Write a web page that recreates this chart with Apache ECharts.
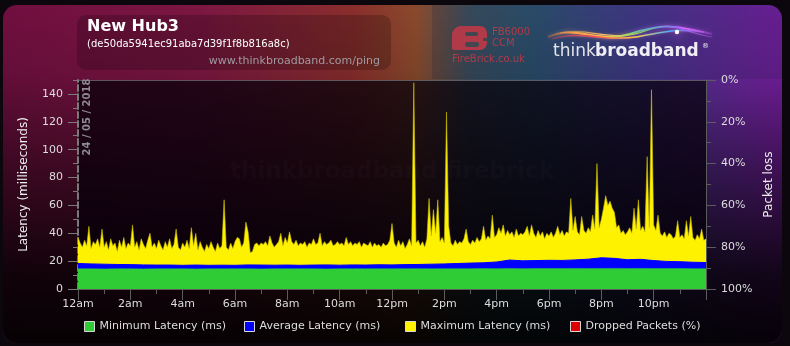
<!DOCTYPE html>
<html><head><meta charset="utf-8">
<script src="https://cdn.jsdelivr.net/npm/echarts@6/dist/echarts.min.js"></script>
<style>html,body{margin:0;padding:0;background:#0b070c;}#c{width:790px;height:346px;}</style>
</head><body><div id="c"></div>
<script>
// ---- data ----
const hourLabels = ['12am','2am','4am','6am','8am','10am','12pm','2pm','4pm','6pm','8pm','10pm'];
const seriesNames = ['Minimum Latency (ms)','Average Latency (ms)','Maximum Latency (ms)','Dropped Packets (%)'];
// maximum latency, one value per 5 minutes (00:00 .. 24:00)
const maxLatency = [
 37,33,30,35,31,45,29,34,32,36,30,43,
 30,34,28,36,31,33,27,35,30,37,29,33,
 31,46,30,34,28,36,32,29,35,40,30,33,
 29,35,31,28,34,30,36,29,32,43,30,28,
 33,30,35,29,44,31,40,28,34,30,27,32,
 29,34,30,27,33,29,31,64,30,28,33,29,
 34,37,36,30,33,48,41,26,27,32,33,31,
 33,32,34,31,38,33,30,32,34,40,31,37,
 33,41,34,32,35,31,33,32,34,30,33,32,
 36,32,33,40,31,34,32,33,35,31,32,34,
 32,33,31,37,32,34,31,33,32,34,30,33,
 32,31,34,30,33,31,32,30,33,31,32,35,
 47,33,30,35,31,34,29,32,36,31,148,33,
 35,31,34,30,36,65,38,57,40,64,34,37,
 33,127,45,33,31,35,32,34,33,36,43,34,
 32,35,33,37,34,36,45,35,38,36,53,37,
 39,44,40,46,38,42,39,41,37,43,38,40,
 39,41,45,38,46,40,37,42,38,41,36,40,
 38,41,37,40,45,39,42,38,41,40,65,42,
 52,41,39,52,42,40,44,41,53,43,90,44,
 50,58,67,60,63,58,55,44,46,40,42,39,
 41,44,40,58,43,64,42,45,41,95,44,143,
 46,42,53,40,38,41,37,40,39,36,38,49,
 37,39,36,49,38,52,37,35,39,36,43,35,
 36
];
// average latency, one value per 30 minutes
const avgLatency = [
 18.3,18.0,17.8,17.6,17.5,17.3,17.2,17.2,17.0,17.2,17.0,17.1,
 17.0,17.3,17.2,17.1,17.2,17.0,17.2,17.3,17.1,17.3,17.2,17.4,
 17.3,17.5,17.6,17.8,18.0,18.3,18.6,18.8,19.4,20.8,20.2,20.4,
 20.6,20.5,20.9,21.4,22.4,22.0,21.0,21.3,20.4,19.8,19.6,19.2,
 19.0
];
// minimum latency, one value per 30 minutes
const minLatency = [
 14.5,14.5,14.4,14.5,14.5,14.4,14.5,14.5,14.5,14.4,14.5,14.5,
 14.5,14.5,14.4,14.5,14.5,14.5,14.5,14.4,14.5,14.5,14.5,14.5,
 14.5,14.6,14.6,14.5,14.6,14.6,14.6,14.7,14.6,14.7,14.6,14.7,
 14.7,14.7,14.8,14.7,14.8,14.8,14.7,14.8,14.7,14.7,14.7,14.6,
 14.6
];
// dropped packets (%), hourly
const droppedPackets = [0,0,0,0,0,0,0,0,0,0,0,0,0,0,0,0,0,0,0,0,0,0,0,0,0];

const FONT = "'DejaVu Sans', sans-serif";
const chart = echarts.init(document.getElementById('c'), null, {renderer:'canvas'});
const G = echarts.graphic;
const LG = (stops) => new G.LinearGradient(0,0,1,0,stops.map((c,i)=>({offset:i/(stops.length-1), color:c})));

const legendBase = {
  orient:'horizontal', top:321, padding:0, itemWidth:10, itemHeight:10, itemGap:0, icon:'rect',
  itemStyle:{borderColor:'#d8d8d8', borderWidth:1},
  textStyle:{color:'#dddddd', fontSize:11, fontFamily:FONT}
};

chart.setOption({
  animation:false,
  backgroundColor:'#0b070c',
  textStyle:{fontFamily:FONT},
  grid:{left:78, right:84, top:80, bottom:57, containLabel:false},
  legend:[
    Object.assign({}, legendBase, {left:84, data:[seriesNames[0]]}),
    Object.assign({}, legendBase, {left:244, data:[seriesNames[1]]}),
    Object.assign({}, legendBase, {left:405, data:[seriesNames[2]]}),
    Object.assign({}, legendBase, {left:570, data:[seriesNames[3]]})
  ],
  xAxis:{
    type:'value', min:0, max:24, interval:2,
    axisLine:{show:true, lineStyle:{color:'#5c5c5c', width:1}},
    axisTick:{show:true, length:11, lineStyle:{color:'#5c5c5c'}},
    minorTick:{show:true, splitNumber:2, length:5, lineStyle:{color:'#5c5c5c'}},
    splitLine:{show:false},
    axisLabel:{color:'#dddddd', fontSize:11, fontFamily:FONT, margin:10, showMaxLabel:false,
      formatter:v => (v % 2 === 0 && v < 24) ? hourLabels[v/2] : ''}
  },
  yAxis:[
    {
      type:'value', position:'left', min:0, max:150, interval:20,
      name:'Latency (milliseconds)', nameLocation:'middle', nameGap:48,
      nameTextStyle:{color:'#eeeeee', fontSize:12, fontFamily:FONT},
      axisLine:{show:true, lineStyle:{color:'#7a7a7a', width:2, type:[6,3]}},
      axisTick:{show:true, length:10, lineStyle:{color:'#7a7a7a'}, customValues:[0,20,40,60,80,100,120,140]},
      splitLine:{show:false},
      axisLabel:{color:'#dddddd', fontSize:11, fontFamily:FONT, margin:15,
        formatter:v => v > 140 ? '' : String(v)}
    },
    {
      type:'value', position:'right', min:0, max:100, interval:20, inverse:true,
      name:'Packet loss', nameLocation:'middle', nameGap:50,
      nameTextStyle:{color:'#eeeeee', fontSize:12, fontFamily:FONT},
      axisLine:{show:true, lineStyle:{color:'#5c5c5c', width:1}},
      axisTick:{show:true, length:10, lineStyle:{color:'#5c5c5c'}},
      minorTick:{show:true, splitNumber:2, length:5, lineStyle:{color:'#5c5c5c'}},
      splitLine:{show:false},
      axisLabel:{color:'#dddddd', fontSize:11, fontFamily:FONT, margin:15, formatter:'{value}%'}
    },
    {
      type:'value', position:'left', min:0, max:150, interval:10,
      axisLine:{show:false}, axisLabel:{show:false}, splitLine:{show:false},
      axisTick:{show:true, length:5, lineStyle:{color:'#7a7a7a'}}
    }
  ],
  series:[
    {
      name:seriesNames[2], type:'line', z:2, showSymbol:false, symbol:'none',
      data:maxLatency.map((v,i)=>[i/12, v]),
      color:'#fff200', lineStyle:{width:0.6, color:'#c8bc00'},
      areaStyle:{color:'#fff200', opacity:1}
    },
    {
      name:seriesNames[1], type:'line', z:3, showSymbol:false, symbol:'none',
      data:avgLatency.map((v,i)=>[i/2, v]),
      color:'#0000ff', lineStyle:{width:1, color:'#0000ff'},
      areaStyle:{color:'#0000ff', opacity:1}
    },
    {
      name:seriesNames[0], type:'line', z:4, showSymbol:false, symbol:'none',
      data:minLatency.map((v,i)=>[i/2, v]),
      color:'#2fcc36', lineStyle:{width:0.5, color:'#2fcc36'},
      areaStyle:{color:'#2fcc36', opacity:1}
    },
    {
      name:seriesNames[3], type:'bar', yAxisIndex:1, z:5, barWidth:3,
      data:droppedPackets.map((v,i)=>[i, v]),
      color:'#dd0000'
    }
  ],
  graphic:[
    {type:'rect', z:-20, shape:{x:3, y:5, width:779, height:338, r:14},
     style:{fill:new G.LinearGradient(0,0,1,0,[
       {offset:0, color:'#700f40'},
       {offset:0.25, color:'#7c1642'},
       {offset:0.45, color:'#8a2e2c'},
       {offset:0.53, color:'#8a4a2c'},
       {offset:0.6, color:'#3e5262'},
       {offset:0.68, color:'#2f5572'},
       {offset:0.82, color:'#493a92'},
       {offset:1, color:'#7a1fa4'}
     ])}},
    {type:'rect', z:-19, shape:{x:3, y:5, width:779, height:338, r:14},
     style:{fill:new G.LinearGradient(0,0,0,1,[
       {offset:0, color:'rgba(0,0,0,0)'},
       {offset:0.2, color:'rgba(0,0,0,0.1)'},
       {offset:0.5, color:'rgba(0,0,0,0.5)'},
       {offset:0.8, color:'rgba(0,0,0,0.85)'},
       {offset:1, color:'rgba(0,0,0,0.95)'}
     ])}},
    {type:'rect', z:-18, shape:{x:432, y:5, width:350, height:74, r:[0,14,0,0]},
     style:{fill:'rgba(10,25,50,0.16)'}},
    {type:'rect', z:-17, shape:{x:78, y:80, width:628, height:209},
     style:{fill:'rgba(6,0,10,0.72)'}},
    {type:'line', z:-16, shape:{x1:78, y1:80.5, x2:716, y2:80.5},
     style:{stroke:'rgba(150,150,160,0.55)', lineWidth:1}},
    {type:'text', z:-15, x:392, y:172,
     style:{text:'thinkbroadband firebrick', fill:'rgba(255,255,255,0.018)',
       font:"bold 23px 'DejaVu Sans'", textAlign:'center', textVerticalAlign:'middle'}},
    {type:'rect', z:-14, shape:{x:77, y:15, width:314, height:55, r:9},
     style:{fill:'rgba(0,0,0,0.2)'}},
    {type:'text', x:87, y:27, style:{text:'New Hub3', fill:'#ffffff',
       font:"bold 16px 'DejaVu Sans'", textVerticalAlign:'middle'}},
    {type:'text', x:87, y:44, style:{text:'(de50da5941ec91aba7d39f1f8b816a8c)', fill:'#ffffff',
       font:"10px 'DejaVu Sans'", textVerticalAlign:'middle'}},
    {type:'text', x:380, y:61, style:{text:'www.thinkbroadband.com/ping', fill:'#a09aa0',
       font:"11px 'DejaVu Sans'", textAlign:'right', textVerticalAlign:'middle'}},
    {type:'text', x:87, y:117, rotation:Math.PI/2,
     style:{text:'24 / 05 / 2018', fill:'#8e8a8e', font:"bold 10px 'DejaVu Sans'",
       textAlign:'center', textVerticalAlign:'middle'}},
    // FireBrick logo
    {type:'rect', shape:{x:452, y:26, width:35, height:24, r:[9,7,7,2]}, style:{fill:'#b13a48'}},
    {type:'rect', shape:{x:465, y:32, width:13, height:4, r:2}, style:{fill:'#44464f'}},
    {type:'rect', shape:{x:465, y:42, width:14, height:5, r:2}, style:{fill:'#44464f'}},
    {type:'rect', shape:{x:483, y:38, width:4, height:3}, style:{fill:'#44464f'}},
    {type:'text', x:492, y:32, style:{text:'FB6000', fill:'#b13a48', font:"10px 'DejaVu Sans'", textVerticalAlign:'middle'}},
    {type:'text', x:492, y:43, style:{text:'CCM', fill:'#b13a48', font:"10px 'DejaVu Sans'", textVerticalAlign:'middle'}},
    {type:'text', x:452, y:59, style:{text:'FireBrick.co.uk', fill:'#b13a48', font:"10px 'DejaVu Sans'", textVerticalAlign:'middle'}},
    // swirl
    {type:'bezierCurve', shape:{x1:548,y1:37,cpx1:575,cpy1:24,cpx2:600,cpy2:44,x2:630,y2:34},
     style:{fill:null, lineWidth:2, shadowBlur:4, shadowColor:'rgba(255,200,120,0.6)',
       stroke:LG(['rgba(255,120,60,0.2)','#ff9a40','#f0d040','#80e060'])}},
    {type:'bezierCurve', shape:{x1:630,y1:34,cpx1:660,cpy1:24,cpx2:670,cpy2:24,x2:712,y2:34},
     style:{fill:null, lineWidth:2, shadowBlur:4, shadowColor:'rgba(200,120,255,0.6)',
       stroke:LG(['#80e060','#5080ff','#e060ff','rgba(200,80,255,0.2)'])}},
    {type:'bezierCurve', shape:{x1:552,y1:39,cpx1:582,cpy1:30,cpx2:606,cpy2:42,x2:636,y2:37},
     style:{fill:null, lineWidth:1.5, shadowBlur:3, shadowColor:'rgba(255,120,200,0.5)',
       stroke:LG(['rgba(255,60,60,0.2)','#ff5050','#ffd040'])}},
    {type:'bezierCurve', shape:{x1:636,y1:37,cpx1:666,cpy1:32,cpx2:676,cpy2:28,x2:704,y2:32},
     style:{fill:null, lineWidth:1.5, shadowBlur:3, shadowColor:'rgba(255,120,200,0.5)',
       stroke:LG(['#ffd040','#40b0ff','rgba(220,90,255,0.3)'])}},
    {type:'bezierCurve', shape:{x1:560,y1:33,cpx1:588,cpy1:27,cpx2:614,cpy2:43,x2:645,y2:31},
     style:{fill:null, lineWidth:1.2, stroke:LG(['rgba(255,180,80,0.2)','#ffc060','#80e060'])}},
    {type:'bezierCurve', shape:{x1:645,y1:31,cpx1:676,cpy1:19,cpx2:682,cpy2:33,x2:712,y2:37},
     style:{fill:null, lineWidth:1.2, stroke:LG(['#80e060','#8060ff','rgba(255,120,255,0.2)'])}},
    {type:'circle', shape:{cx:677, cy:32, r:2.2},
     style:{fill:'#ffffff', shadowBlur:8, shadowColor:'#ff80ff'}},
    // wordmark
    {type:'text', x:553, y:52, style:{text:'think', fill:'#e4e4ec',
       font:"17px 'DejaVu Sans ExtraLight', 'DejaVu Sans'", textVerticalAlign:'middle'}},
    {type:'text', x:595, y:52, style:{text:'broadband', fill:'#eeeef4',
       font:"bold 17px 'DejaVu Sans'", textVerticalAlign:'middle'}},
    {type:'text', x:702, y:46, style:{text:'®', fill:'#eeeef4',
       font:"7px 'DejaVu Sans'", textVerticalAlign:'middle'}}
  ]
});
</script>
</body></html>
